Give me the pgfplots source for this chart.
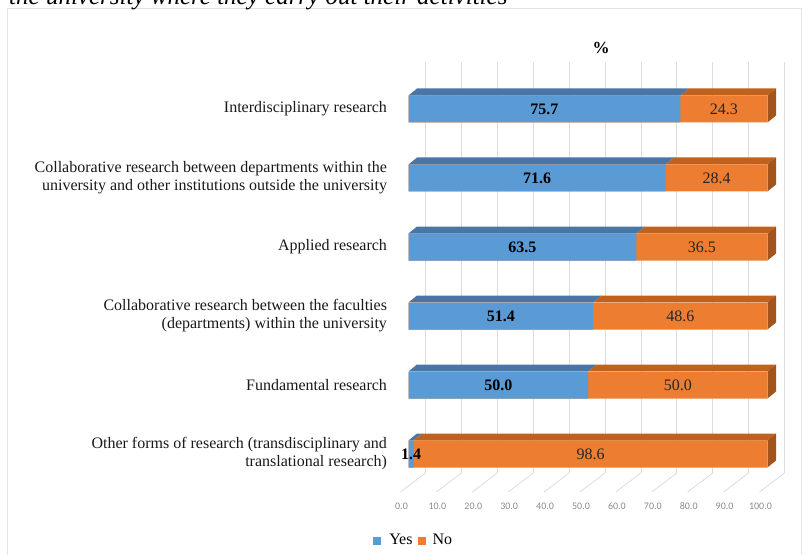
\documentclass[border=0pt]{standalone}
\usepackage{pgfplots}
\pgfplotsset{compat=1.18}
\usepackage{pgfplotstable}
\usepackage{fontspec}
\setmainfont{Liberation Serif}
\newfontfamily\carlito{Carlito}
\definecolor{yescol}{HTML}{5B9BD5}
\definecolor{yestop}{HTML}{4876A8}
\definecolor{nocol}{HTML}{ED7D31}
\definecolor{notop}{HTML}{C0621E}
\definecolor{noside}{HTML}{A3541C}
\definecolor{gridcol}{HTML}{DCDCDC}
\definecolor{ticktext}{HTML}{8A8A8A}

\pgfplotstableread{
idx yes no
0 75.7 24.3
1 71.6 28.4
2 63.5 36.5
3 51.4 48.6
4 50.0 50.0
5 1.4 98.6
}\data

\newcommand\hh{0.1957}
\newcommand\ddy{0.1014}
\newcommand\ddx{2.37}
\newcommand\threeD[2]{%
  \pgfmathsetmacro\yA{#1-\hh}%
  \pgfmathsetmacro\yB{#1-\hh-\ddy}%
  \pgfmathsetmacro\yC{#1+\hh-\ddy}%
  \pgfmathsetmacro\yD{#1+\hh}%
  \pgfmathsetmacro\xA{#2+\ddx}%
  \pgfmathsetmacro\xB{100+\ddx}%
  \addplot[fill=yestop,draw=none,forget plot] coordinates {(0,\yA) (#2,\yA) (\xA,\yB) (\ddx,\yB)} -- cycle;
  \addplot[fill=notop,draw=none,forget plot] coordinates {(#2,\yA) (100,\yA) (\xB,\yB) (\xA,\yB)} -- cycle;
  \addplot[fill=noside,draw=none,forget plot] coordinates {(100,\yA) (\xB,\yB) (\xB,\yC) (100,\yD)} -- cycle;
}

\begin{document}
\begin{tikzpicture}
\useasboundingbox (0,0) rectangle (802pt,-554pt);
\draw[gridcol!80] (7pt,-8pt) rectangle (801pt,-580pt);
\node[anchor=base west,font=\itshape\fontsize{25}{28}\selectfont,inner sep=0pt] at (9pt,-5pt) {the university where they carry out their activities};
\node[font=\bfseries\fontsize{17}{20}\selectfont] at (601pt,-48pt) {\%};
\begin{axis}[
  at={(408.5pt,-62pt)}, anchor=north west,
  x=3.59pt, y=69pt, y dir=reverse,
  xmin=0, xmax=100, ymin=-0.681, ymax=5.275,
  clip=false,
  axis line style={draw=none}, tick style={draw=none},
  /pgf/number format/assume math mode=true,
  xtick={0,10,...,100},
  xticklabel={\pgfmathprintnumber[fixed,fixed zerofill,precision=1]{\tick}},
  xticklabel style={font=\carlito\fontsize{10}{12}\selectfont, text=ticktext, anchor=center, xshift=-7pt, yshift=-33pt},
  xmajorgrids,
  major grid style={draw=gridcol, line width=0.8pt, xshift=17pt},
  ytick={0,...,5},
  yticklabels={{Interdisciplinary research},
    {Collaborative research between departments within the\\university and other institutions outside the university},
    {Applied research},
    {Collaborative research between the faculties\\(departments) within the university},
    {Fundamental research},
    {Other forms of research (transdisciplinary and\\translational research)}},
  yticklabel style={font=\fontsize{16}{18}\selectfont, align=right, anchor=east, xshift=-18pt, text=black!90},
  legend style={at={(-0.107,-0.163)}, anchor=west, draw=none, fill=none,
    font=\fontsize{16}{18}\selectfont, legend columns=2,
    /tikz/every even column/.append style={column sep=3pt}},
]
\pgfplotsinvokeforeach{0,10,20,30,40,50,60,70,80,90,100}{
  \draw[gridcol, line width=0.8pt] ([xshift=17pt]axis cs:#1,5.275) -- ++(-25pt,-19pt);
}
\threeD{0}{75.7}
\threeD{1}{71.6}
\threeD{2}{63.5}
\threeD{3}{51.4}
\threeD{4}{50.0}
\threeD{5}{1.4}
\addplot[xbar, bar shift=0pt, bar width=27pt, fill=nocol, draw=none, forget plot]
  table[x expr=\thisrow{yes}+\thisrow{no}, y=idx] {\data};
\addplot[xbar, bar shift=0pt, bar width=27pt, fill=yescol, draw=none, forget plot]
  table[x=yes, y=idx] {\data};
\addplot[draw=none, mark=none, forget plot, nodes near coords, point meta=explicit symbolic,
  nodes near coords align={center},
  every node near coord/.append style={font=\bfseries\fontsize{16}{18}\selectfont, text=black}]
  table[x expr=\thisrow{yes}/2, y=idx, meta=yes] {\data};
\addplot[draw=none, mark=none, forget plot, nodes near coords, point meta=explicit symbolic,
  nodes near coords align={center},
  every node near coord/.append style={font=\fontsize{16}{18}\selectfont, text=black!85}]
  table[x expr=\thisrow{yes}+\thisrow{no}/2, y=idx, meta=no] {\data};
\addlegendimage{legend image code/.code={\fill[yescol, draw=none] (0pt,-5.5pt) rectangle (8pt,2.5pt); \path[draw=none, fill=none] (0pt,0pt) rectangle (14pt,0.1pt);}}
\addlegendentry{Yes}
\addlegendimage{legend image code/.code={\fill[nocol, draw=none] (0pt,-5.5pt) rectangle (8pt,2.5pt); \path[draw=none, fill=none] (0pt,0pt) rectangle (13pt,0.1pt);}}
\addlegendentry{No}
\end{axis}
\end{tikzpicture}
\end{document}
